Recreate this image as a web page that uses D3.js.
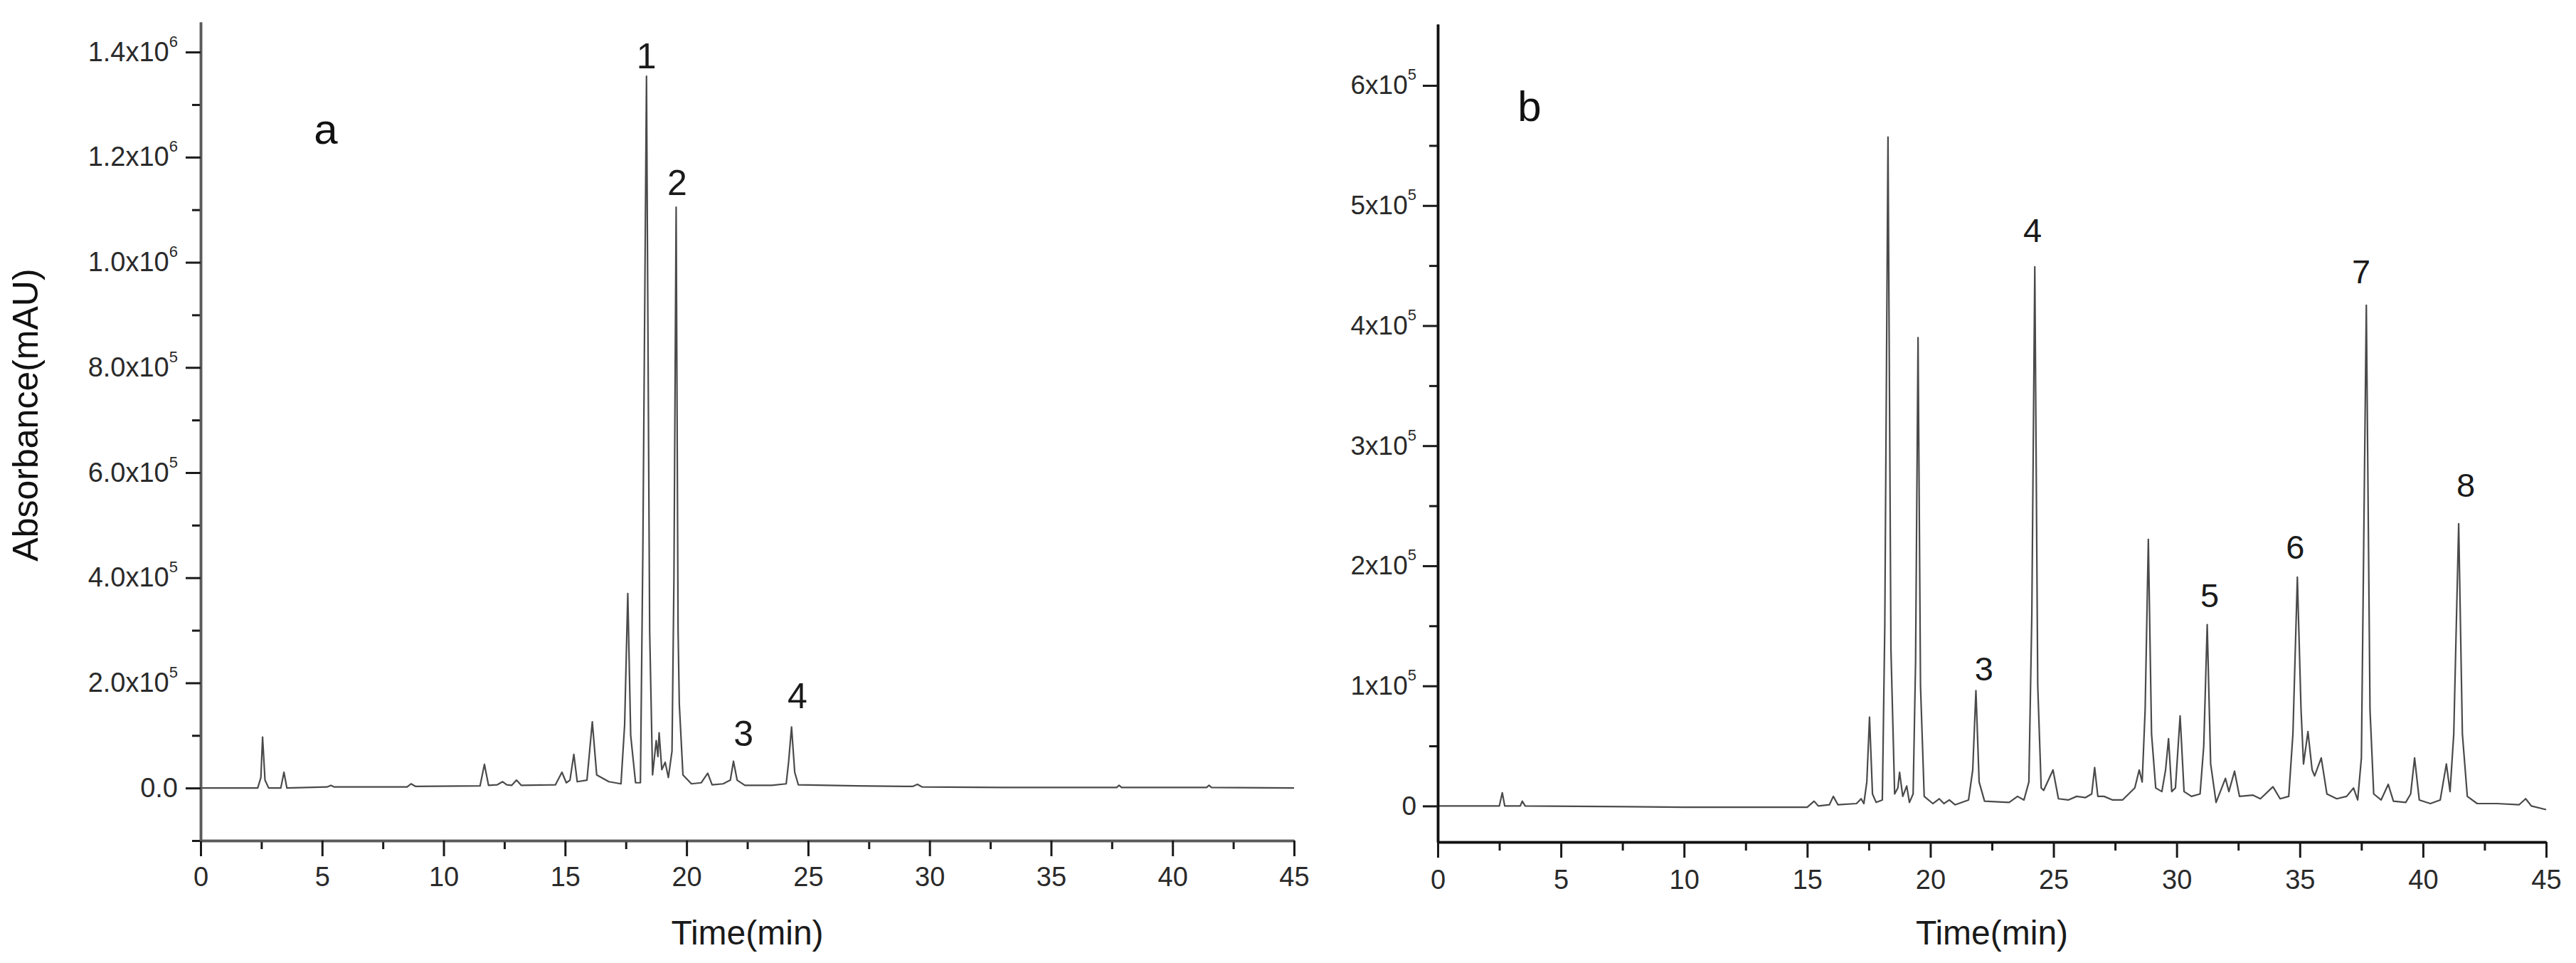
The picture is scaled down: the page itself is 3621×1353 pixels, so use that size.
<!DOCTYPE html>
<html>
<head>
<meta charset="utf-8">
<script src="https://cdn.jsdelivr.net/npm/d3@7"></script>
<style>
  body { margin: 0; background: #fff; }
  svg { display: block; font-family: "Liberation Sans", Arial, sans-serif; }
</style>
</head>
<body>
<div id="chart"></div>
<script>
// x ticks (minutes), shared by both panels
const xTicks = [0, 5, 10, 15, 20, 25, 30, 35, 40, 45];
const xMinorTicks = [2.5, 7.5, 12.5, 17.5, 22.5, 27.5, 32.5, 37.5, 42.5];

// panel a: y ticks and their labels (^ marks the exponent)
const yTicksA = [0, 2e5, 4e5, 6e5, 8e5, 1e6, 1.2e6, 1.4e6];
const yLabelsA = ['0.0', '2.0x10^5', '4.0x10^5', '6.0x10^5', '8.0x10^5', '1.0x10^6', '1.2x10^6', '1.4x10^6'];
const yMinorA = [-1e5, 1e5, 3e5, 5e5, 7e5, 9e5, 1.1e6, 1.3e6];

// panel b
const yTicksB = [0, 1e5, 2e5, 3e5, 4e5, 5e5, 6e5];
const yLabelsB = ['0', '1x10^5', '2x10^5', '3x10^5', '4x10^5', '5x10^5', '6x10^5'];
const yMinorB = [5e4, 1.5e5, 2.5e5, 3.5e5, 4.5e5, 5.5e5];

// chromatogram a: [time (min), absorbance]
const traceA = [
  [0, 0], [2.35, 0], [2.48, 2.0e4], [2.55, 9.7e4], [2.65, 1.5e4], [2.8, 0], [3.3, 0], [3.43, 3.0e4], [3.55, 0],
  [5.2, 2e3], [5.36, 5e3], [5.5, 2e3], [8.5, 2e3], [8.66, 8e3], [8.85, 3e3], [11.5, 4e3], [11.68, 4.5e4],
  [11.85, 5e3], [12.2, 6e3], [12.43, 1.2e4], [12.6, 6e3], [12.8, 5e3], [13.0, 1.5e4], [13.2, 5e3], [14.6, 6e3],
  [14.87, 3.0e4], [15.05, 1.0e4], [15.2, 1.5e4], [15.36, 6.4e4], [15.5, 1.2e4], [15.9, 1.5e4], [16.12, 1.26e5],
  [16.3, 2.5e4], [16.8, 1.2e4], [17.3, 8e3], [17.45, 1.2e5], [17.58, 3.7e5], [17.7, 1.0e5], [17.9, 1.0e4],
  [18.1, 1.0e4], [18.2, 4.5e5], [18.35, 1.354e6], [18.48, 3.0e5], [18.6, 2.5e4], [18.75, 9.0e4], [18.82, 6.0e4],
  [18.87, 1.05e5], [18.98, 3.5e4], [19.12, 4.9e4], [19.25, 2.0e4], [19.4, 7.0e4], [19.48, 4.0e5], [19.57, 1.105e6],
  [19.65, 3.0e5], [19.7, 1.6e5], [19.85, 2.5e4], [20.2, 8e3], [20.6, 1.0e4], [20.87, 2.8e4], [21.05, 6e3],
  [21.5, 8e3], [21.8, 1.5e4], [21.93, 5.1e4], [22.08, 1.5e4], [22.4, 5e3], [23.5, 5e3], [24.1, 8e3], [24.2, 5e4],
  [24.32, 1.16e5], [24.45, 3e4], [24.6, 6e3], [27, 4e3], [29.3, 3e3], [29.5, 7e3], [29.7, 2e3], [33, 1e3],
  [37.7, 1e3], [37.8, 5e3], [37.9, 1e3], [41.4, 1e3], [41.5, 5e3], [41.6, 1e3], [45, 0]
];

// chromatogram b
const traceB = [
  [0, 0], [2.5, 0], [2.62, 1.1e4], [2.72, 0], [3.35, 0], [3.43, 4e3], [3.55, 0], [10, -1e3], [15, -1e3],
  [15.28, 4e3], [15.45, 0], [15.9, 1e3], [16.06, 8e3], [16.25, 1e3], [17.0, 2e3], [17.19, 6e3], [17.3, 2e3],
  [17.42, 2e4], [17.53, 7.4e4], [17.65, 1e4], [17.8, 3e3], [18.05, 5e3], [18.15, 1.5e5], [18.28, 5.57e5],
  [18.4, 1.3e5], [18.55, 1e4], [18.68, 1.5e4], [18.75, 2.8e4], [18.88, 8e3], [19.04, 1.66e4], [19.15, 3e3],
  [19.3, 1.0e4], [19.4, 1.2e5], [19.5, 3.9e5], [19.6, 1.0e5], [19.75, 8e3], [20.1, 2e3], [20.36, 6e3],
  [20.55, 2e3], [20.77, 5e3], [21.0, 1e3], [21.55, 5e3], [21.72, 3e4], [21.85, 9.6e4], [21.98, 2e4], [22.2, 4e3],
  [23.2, 3e3], [23.54, 8e3], [23.8, 5e3], [24.0, 2e4], [24.12, 1.6e5], [24.24, 4.49e5], [24.36, 1.0e5],
  [24.5, 1.5e4], [24.6, 1.3e4], [24.98, 3.0e4], [25.2, 6e3], [25.6, 5e3], [25.94, 8e3], [26.3, 7e3],
  [26.55, 1e4], [26.67, 3.2e4], [26.8, 8e3], [27.05, 8e3], [27.4, 5e3], [27.8, 5e3], [28.3, 1.5e4],
  [28.48, 3.0e4], [28.6, 2e4], [28.72, 8e4], [28.85, 2.22e5], [28.98, 6e4], [29.15, 1.5e4], [29.4, 1.2e4],
  [29.55, 3e4], [29.67, 5.6e4], [29.8, 1.2e4], [29.95, 1.5e4], [30.14, 7.5e4], [30.3, 1.2e4], [30.6, 8e3],
  [30.95, 1.0e4], [31.1, 5e4], [31.24, 1.51e5], [31.38, 3.5e4], [31.6, 3e3], [31.98, 2.3e4], [32.12, 1.2e4],
  [32.35, 2.9e4], [32.55, 8e3], [33.1, 9e3], [33.4, 6e3], [33.91, 1.6e4], [34.2, 6e3], [34.55, 8e3],
  [34.72, 6e4], [34.9, 1.905e5], [35.05, 8e4], [35.15, 3.5e4], [35.33, 6.2e4], [35.5, 3e4], [35.6, 2.5e4],
  [35.87, 4.0e4], [36.1, 1.0e4], [36.5, 6e3], [36.9, 8e3], [37.18, 1.5e4], [37.35, 5e3], [37.5, 4e4],
  [37.7, 4.17e5], [37.85, 8e4], [38.0, 1.0e4], [38.3, 5e3], [38.59, 1.8e4], [38.8, 4e3], [39.3, 3e3],
  [39.5, 1.0e4], [39.66, 4.0e4], [39.85, 5e3], [40.3, 2e3], [40.7, 5e3], [40.95, 3.5e4], [41.1, 1.2e4],
  [41.25, 6e4], [41.45, 2.35e5], [41.6, 6e4], [41.8, 8e3], [42.2, 2e3], [43, 2e3], [43.9, 1e3], [44.17, 6e3],
  [44.4, 0], [45, -3e3]
];

// peak numbers: [label, time, absorbance at text baseline]
const peaksA = [['1', 18.35, 1.369e6], ['2', 19.61, 1.128e6], ['3', 22.34, 8.0e4], ['4', 24.56, 1.52e5]];
const peaksB = [['3', 22.18, 1.043e5], ['4', 24.15, 4.695e5], ['5', 31.34, 1.654e5],
                ['6', 34.81, 2.057e5], ['7', 37.49, 4.351e5], ['8', 41.74, 2.573e5]];

const width = 3621, height = 1353;

const svg = d3.select('#chart').append('svg')
    .attr('width', width).attr('height', height);

function styleAxis(sel, lineColor, fontSize) {
  sel.attr('font-family', null).attr('font-size', fontSize);
  sel.select('.domain').attr('stroke', lineColor).attr('stroke-width', 3.5);
  sel.selectAll('.tick line').attr('stroke', '#1a1a1a').attr('stroke-width', 3);
  sel.selectAll('.tick text').attr('fill', '#2a2a2a');
}

function drawPanel(p) {
  const x = d3.scaleLinear().domain([0, 45]).range([p.left, p.right]);
  const y = d3.scaleLinear().domain(p.yDomain).range([p.bottom, p.top]);
  const g = svg.append('g');

  const line = d3.line().x(d => x(d[0])).y(d => y(d[1]));
  g.append('path').datum(p.trace)
      .attr('d', line)
      .attr('fill', 'none')
      .attr('stroke', '#4a4a4a')
      .attr('stroke-width', 2.2)
      .attr('stroke-linejoin', 'round');

  // x axis, minor then major
  g.append('g').attr('transform', 'translate(0,' + p.bottom + ')')
      .call(d3.axisBottom(x).tickValues(xMinorTicks).tickSize(12).tickSizeOuter(0).tickFormat(''))
      .call(s => styleAxis(s, p.axisColor, 38));
  g.append('g').attr('transform', 'translate(0,' + p.bottom + ')')
      .call(d3.axisBottom(x).tickValues(xTicks).tickSize(22).tickSizeOuter(0).tickPadding(p.xPad))
      .call(s => styleAxis(s, p.axisColor, 38));

  // y axis
  g.append('g').attr('transform', 'translate(' + p.left + ',0)')
      .call(d3.axisLeft(y).tickValues(p.yMinor).tickSize(12).tickSizeOuter(0).tickFormat(''))
      .call(s => styleAxis(s, p.axisColor, 38));
  const ya = g.append('g').attr('transform', 'translate(' + p.left + ',0)')
      .call(d3.axisLeft(y).tickValues(p.yTicks).tickSize(21).tickSizeOuter(0).tickPadding(p.yPad))
      .call(s => styleAxis(s, p.axisColor, p.yFont));
  ya.selectAll('.tick text').each(function(d, i) {
    const parts = p.yLabels[i].split('^');
    const t = d3.select(this).text(parts[0]);
    if (parts[1]) t.append('tspan').attr('dy', -20).attr('font-size', 22).text(parts[1]);
  });

  g.selectAll('text.peak').data(p.peaks).join('text')
      .attr('class', 'peak')
      .attr('x', d => x(d[1]))
      .attr('y', d => y(d[2]))
      .attr('text-anchor', 'middle')
      .attr('font-size', p.peakFont)
      .attr('fill', '#1a1a1a')
      .text(d => d[0]);

  g.append('text')
      .attr('x', (p.left + p.right) / 2).attr('y', 1327)
      .attr('text-anchor', 'middle')
      .attr('font-size', 48).attr('fill', '#1a1a1a')
      .text('Time(min)');

  g.append('text')
      .attr('x', p.tagX).attr('y', p.tagY)
      .attr('text-anchor', 'middle')
      .attr('font-size', 60).attr('fill', '#111')
      .text(p.tag);
}

drawPanel({
  left: 282, right: 1819, top: 31, bottom: 1181, yDomain: [-1e5, 1.457e6],
  trace: traceA, yTicks: yTicksA, yLabels: yLabelsA, yMinor: yMinorA,
  peaks: peaksA, peakFont: 50, axisColor: '#5a5a5a', xPad: 15, yPad: 11, yFont: 38,
  tag: 'a', tagX: 458, tagY: 202
});

drawPanel({
  left: 2021, right: 3579, top: 34, bottom: 1183, yDomain: [-3e4, 6.51e5],
  trace: traceB, yTicks: yTicksB, yLabels: yLabelsB, yMinor: yMinorB,
  peaks: peaksB, peakFont: 47, axisColor: '#111', xPad: 17, yPad: 9, yFont: 37,
  tag: 'b', tagX: 2150, tagY: 170
});

svg.append('text')
    .attr('transform', 'translate(53,583) rotate(-90)')
    .attr('text-anchor', 'middle')
    .attr('font-size', 50).attr('fill', '#111')
    .text('Absorbance(mAU)');
</script>
</body>
</html>
